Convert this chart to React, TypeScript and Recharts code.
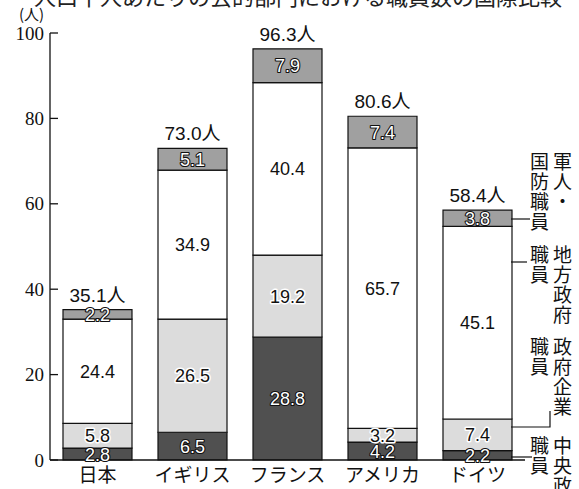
import React from "react";
import { BarChart, Bar, XAxis, YAxis, LabelList } from "recharts";

// values (人口千人あたり, 人)
const countries = ["日本", "イギリス", "フランス", "アメリカ", "ドイツ"];
const central = [2.8, 6.5, 28.8, 4.2, 2.2]; // 中央政府職員
const enterprise = [5.8, 26.5, 19.2, 3.2, 7.4]; // 政府企業職員
const local = [24.4, 34.9, 40.4, 65.7, 45.1]; // 地方政府職員
const military = [2.2, 5.1, 7.9, 7.4, 3.8]; // 軍人・国防職員
const totals = ["35.1", "73.0", "96.3", "80.6", "58.4"];
const yTicks = [0, 20, 40, 60, 80, 100];

const data = countries.map((c, i) => ({
  name: c,
  central: central[i],
  enterprise: enterprise[i],
  local: local[i],
  military: military[i],
  total: totals[i],
}));

const NUM_FONT = "'Liberation Sans', Arial, sans-serif";
const JP_FONT = "'Noto Sans CJK JP', sans-serif";

const segLabel = (outlined: boolean) => (props: any) => {
  const { x, y, width, height, value } = props;
  const cx = Number(x) + Number(width) / 2;
  const cy = Number(y) + Number(height) / 2;
  return (
    <text
      x={cx}
      y={cy}
      dy="0.36em"
      textAnchor="middle"
      fontFamily={NUM_FONT}
      fontSize={18}
      fill={outlined ? "#fff" : "#111"}
      stroke={outlined ? "#111" : "#fff"}
      strokeWidth={outlined ? 2.2 : 3}
      paintOrder="stroke"
      strokeLinejoin="round"
    >
      {value}
    </text>
  );
};

const totalLabel = (props: any) => {
  const { x, y, width, value } = props;
  return (
    <text
      x={Number(x) + Number(width) / 2}
      y={Number(y) - 8}
      textAnchor="middle"
      fontFamily={NUM_FONT}
      fontSize={19}
      fill="#111"
    >
      {value}
      <tspan fontFamily={JP_FONT}>人</tspan>
    </text>
  );
};

const YTick = (props: any) => {
  const { x, y, payload } = props;
  return (
    <g>
      <line x1={x + 6} x2={x + 14} y1={y} y2={y} stroke="#111" strokeWidth={1.3} />
      <text
        x={x}
        y={y}
        dy="0.35em"
        textAnchor="end"
        fontFamily="'Liberation Serif', serif"
        fontSize={19}
        fill="#111"
      >
        {payload.value}
      </text>
    </g>
  );
};

const XTick = (props: any) => {
  const { x, y, payload } = props;
  return (
    <text
      x={x}
      y={y + 15}
      dy="0.36em"
      textAnchor="middle"
      fontFamily={JP_FONT}
      fontSize={19}
      fill="#111"
    >
      {payload.value}
    </text>
  );
};

const vText: React.CSSProperties = {
  position: "absolute",
  writingMode: "vertical-rl",
  fontFamily: JP_FONT,
  fontSize: 19,
  lineHeight: "23px",
  letterSpacing: 1,
  color: "#111",
  whiteSpace: "pre",
};

export default function App() {
  return (
    <div
      style={{
        position: "absolute",
        left: 0,
        top: 0,
        width: 579,
        height: 489,
        background: "#fff",
        overflow: "hidden",
      }}
    >
      <div
        style={{
          position: "absolute",
          left: 34,
          top: -21,
          fontFamily: JP_FONT,
          fontSize: 22,
          whiteSpace: "nowrap",
          color: "#222",
        }}
      >
        人口千人あたりの公的部門における職員数の国際比較
      </div>
      <div
        style={{
          position: "absolute",
          left: 19,
          top: 3,
          fontFamily: JP_FONT,
          fontSize: 15,
          color: "#111",
        }}
      >
        (人)
      </div>
      <BarChart
        width={579}
        height={489}
        data={data}
        margin={{ top: 33, right: 54, bottom: 0, left: 0 }}
        barSize={69}
      >
        <XAxis
          dataKey="name"
          height={29}
          axisLine={{ stroke: "#111", strokeWidth: 1.3 }}
          tickLine={false}
          tickSize={0}
          tickMargin={0}
          tick={<XTick />}
        />
        <YAxis
          width={50}
          domain={[0, 100]}
          ticks={yTicks}
          axisLine={{ stroke: "#111", strokeWidth: 1.3 }}
          tickLine={false}
          tickSize={0}
          tickMargin={6}
          tick={<YTick />}
        />
        <Bar dataKey="central" stackId="a" fill="#505050" stroke="#111" strokeWidth={1.2} isAnimationActive={false}>
          <LabelList dataKey="central" content={segLabel(true)} />
        </Bar>
        <Bar dataKey="enterprise" stackId="a" fill="#dcdcdc" stroke="#111" strokeWidth={1.2} isAnimationActive={false}>
          <LabelList dataKey="enterprise" content={segLabel(false)} />
        </Bar>
        <Bar dataKey="local" stackId="a" fill="#ffffff" stroke="#111" strokeWidth={1.2} isAnimationActive={false}>
          <LabelList dataKey="local" content={segLabel(false)} />
        </Bar>
        <Bar dataKey="military" stackId="a" fill="#a0a0a0" stroke="#111" strokeWidth={1.2} isAnimationActive={false}>
          <LabelList dataKey="military" content={segLabel(true)} />
          <LabelList dataKey="total" content={totalLabel} />
        </Bar>
      </BarChart>

      {/* leader lines from the legend to the ドイツ bar */}
      <svg
        width={579}
        height={489}
        style={{ position: "absolute", left: 0, top: 0, pointerEvents: "none" }}
      >
        <g stroke="#111" strokeWidth={1.2} fill="none">
          <line x1={511} x2={530} y1={219} y2={219} />
          <line x1={511} x2={527} y1={262} y2={262} />
          <polyline points="511,427 550,427 550,411" />
          <line x1={511} x2={532} y1={457} y2={457} />
        </g>
      </svg>

      <div style={{ ...vText, left: 528, top: 152 }}>{"軍人・\n国防職員"}</div>
      <div style={{ ...vText, left: 528, top: 245 }}>{"地方政府\n職員"}</div>
      <div style={{ ...vText, left: 528, top: 337 }}>{"政府企業\n職員"}</div>
      <div style={{ ...vText, left: 528, top: 436 }}>{"中央政府\n職員"}</div>
    </div>
  );
}
